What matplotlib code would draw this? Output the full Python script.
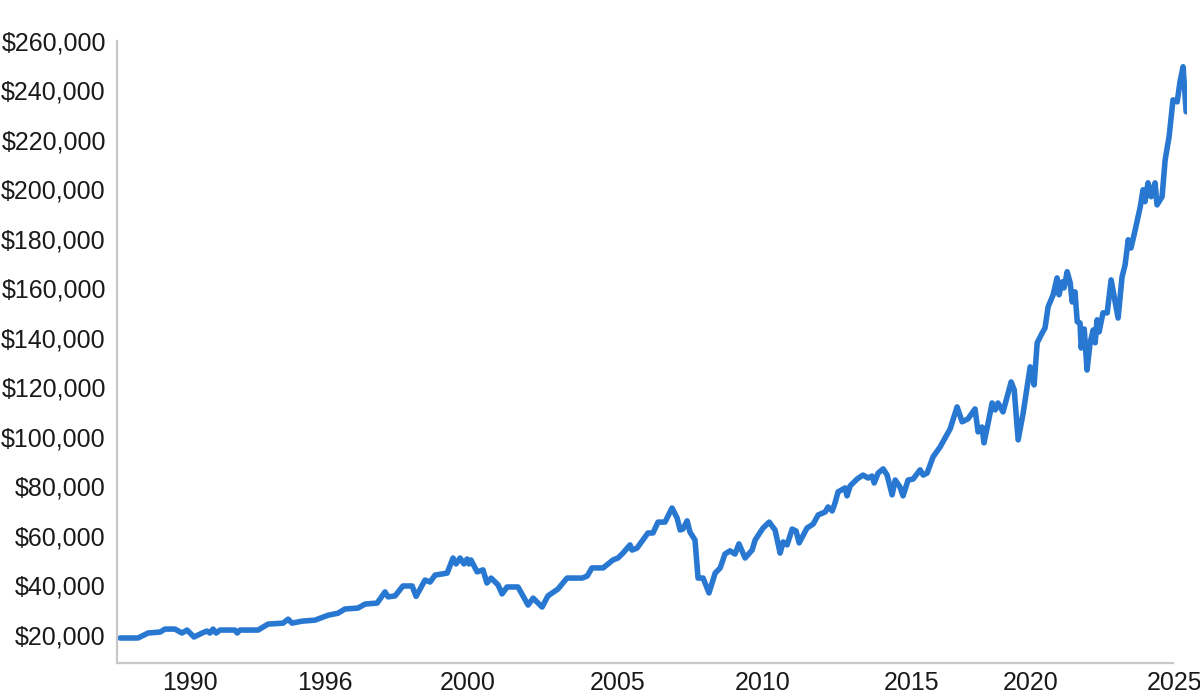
import matplotlib
matplotlib.use("Agg")
import matplotlib.pyplot as plt
from matplotlib.ticker import FuncFormatter

# Growth of a hypothetical investment
years = [
    1988.11, 1988.75, 1989.11, 1989.54, 1989.71, 1990.07, 1990.32, 1990.50, 1990.75,
    1991.04, 1991.21, 1991.32, 1991.43, 1991.54, 1991.68, 1992.21, 1992.29, 1992.39,
    1993.04, 1993.39, 1993.93, 1994.11, 1994.25, 1994.61, 1995.07, 1995.54, 1995.89,
    1996.14, 1996.61, 1996.86, 1997.29, 1997.57, 1997.68, 1997.93, 1998.21, 1998.54,
    1998.68, 1999.00, 1999.18, 1999.36, 1999.79, 2000.00, 2000.11, 2000.25, 2000.39,
    2000.50, 2000.57, 2000.64, 2000.86, 2001.07, 2001.21, 2001.36, 2001.61, 2001.75,
    2001.93, 2002.32, 2002.68, 2002.86, 2003.18, 2003.39, 2003.75, 2004.07, 2004.61,
    2004.79, 2004.96, 2005.36, 2005.71, 2005.89, 2006.07, 2006.32, 2006.39, 2006.57,
    2006.96, 2007.14, 2007.32, 2007.57, 2007.82, 2008.00, 2008.11, 2008.21, 2008.36,
    2008.46, 2008.64, 2008.75, 2008.93, 2009.00, 2009.14, 2009.36, 2009.54, 2009.71,
    2009.89, 2010.07, 2010.21, 2010.43, 2010.68, 2010.79, 2011.07, 2011.29, 2011.50,
    2011.68, 2011.79, 2011.93, 2012.11, 2012.25, 2012.36, 2012.64, 2012.86, 2013.04,
    2013.29, 2013.39, 2013.54, 2013.64, 2013.75, 2014.00, 2014.07, 2014.18, 2014.43,
    2014.64, 2014.82, 2014.96, 2015.04, 2015.18, 2015.36, 2015.50, 2015.68, 2015.79,
    2015.96, 2016.07, 2016.25, 2016.43, 2016.68, 2016.79, 2016.93, 2017.14, 2017.39,
    2017.75, 2018.00, 2018.18, 2018.39, 2018.64, 2018.75, 2018.89, 2018.96, 2019.11,
    2019.25, 2019.36, 2019.46, 2019.64, 2019.93, 2020.04, 2020.18, 2020.36, 2020.61,
    2020.75, 2020.86, 2021.04, 2021.14, 2021.25, 2021.43, 2021.57, 2021.64, 2021.75,
    2021.82, 2021.93, 2022.04, 2022.11, 2022.21, 2022.29, 2022.39, 2022.43, 2022.54,
    2022.64, 2022.75, 2022.86, 2022.93, 2023.00, 2023.07, 2023.21, 2023.36, 2023.50,
    2023.75, 2023.89, 2024.00, 2024.11, 2024.21, 2024.36, 2024.54, 2024.64, 2024.71,
    2024.82, 2024.93, 2025.07, 2025.14, 2025.32, 2025.43, 2025.57, 2025.71, 2025.86,
    2025.96, 2026.07, 2026.18,
]
values = [
    18800, 18800, 20800, 21200, 22400, 22400, 20800, 22000, 19200,
    20800, 21600, 20800, 22400, 20800, 22000, 22000, 20800, 22000,
    22000, 24400, 24800, 26400, 24800, 25600, 26000, 28000, 28800,
    30500, 30900, 32500, 32900, 37400, 35400, 35800, 39800, 39800,
    35600, 42200, 41400, 44200, 45000, 51100, 48700, 51100, 48700,
    50700, 48700, 50300, 45500, 46300, 41000, 43000, 40200, 36600,
    39400, 39400, 32100, 34900, 31300, 35800, 38600, 43000, 43000,
    43800, 47100, 47100, 50300, 51100, 53100, 56400, 54300, 55100,
    61200, 61200, 65600, 65600, 71300, 67300, 62400, 62800, 66100,
    61600, 58400, 43000, 43000, 41000, 37000, 45000, 47100, 52700,
    54000, 52700, 56800, 51100, 54300, 58400, 63200, 65600, 62400,
    53100, 57600, 56400, 62800, 62000, 57200, 63200, 64800, 68500,
    69700, 71700, 70100, 73300, 77800, 79400, 76200, 80200, 83000,
    84600, 83400, 84200, 81400, 85400, 87100, 84600, 76600, 82600,
    79800, 76200, 82600, 83000, 86700, 84600, 85400, 91900, 95900,
    103200, 112100, 106100, 107300, 111300, 102000, 104000, 97600, 105700,
    113700, 110900, 113700, 110100, 122200, 119000, 98800, 109700, 128300,
    121000, 138000, 142000, 144000, 152500, 157400, 164200, 157400, 162600,
    160200, 166700, 162200, 154500, 158600, 146500, 146000, 135900, 143600,
    127000, 138000, 143200, 138000, 147300, 142400, 150100, 150100, 163400,
    148000, 164600, 169500, 179600, 176300, 183600, 192900, 199800, 195000,
    202600, 197000, 202600, 193700, 197000, 211900, 221200, 236100, 235300,
    243400, 249500, 231300,
]

tick_labels = ["1990", "1996", "2000", "2005", "2010", "2015", "2020", "2025"]
tick_pos = [1990.61, 1995.43, 2000.54, 2005.86, 2011.07, 2016.36, 2020.64, 2025.75]
y_ticks = list(range(20000, 260001, 20000))

plt.rcParams["font.family"] = ["Liberation Sans", "DejaVu Sans"]

fig = plt.figure(figsize=(12, 6.98), dpi=100)
ax = fig.add_axes([117 / 1200, 35 / 698, (1187 - 117) / 1200, (663 - 40.7) / 698])

ax.plot(years, values, color="#2878d2", linewidth=4.0,
        solid_joinstyle="round", solid_capstyle="round")

ax.set_xlim(1988.0, 2026.21)
ax.set_ylim(8700, 260000)

ax.set_yticks(y_ticks)
ax.yaxis.set_major_formatter(FuncFormatter(lambda v, p: "${:,.0f}".format(v)))
ax.set_xticks(tick_pos)
ax.set_xticklabels(tick_labels)

for side in ["top", "right"]:
    ax.spines[side].set_visible(False)
for side in ["left", "bottom"]:
    ax.spines[side].set_color("#c8c8c8")
    ax.spines[side].set_linewidth(1.6)
ax.spines["bottom"].set_bounds(1988.0, 2025.71)

ax.tick_params(axis="both", length=0, labelsize=18, colors="#1a1a1a")
ax.tick_params(axis="y", pad=8)
ax.tick_params(axis="x", pad=6)

fig.savefig("out.png", dpi=100)
